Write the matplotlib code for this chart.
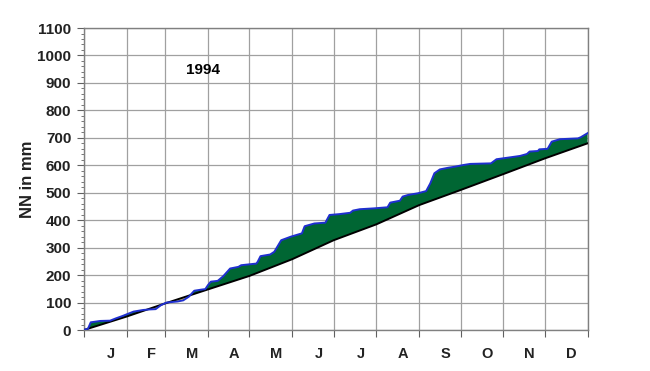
import numpy as np
import matplotlib
matplotlib.use("Agg")
import matplotlib.pyplot as plt

# --- data ---
months = ["J", "F", "M", "A", "M", "J", "J", "A", "S", "O", "N", "D"]
month_days = [31, 28, 31, 30, 31, 30, 31, 31, 30, 31, 30, 31]

# observed cumulative precipitation 1994 (day of year, mm)
obs_day = [0, 3, 5, 12, 19, 23, 28, 31, 36, 43, 48, 52, 56, 60, 68, 72, 76, 80, 85, 88,
           90, 92, 97, 101, 106, 112, 114, 125, 126, 128, 135, 138, 143, 150, 158, 160,
           167, 175, 178, 185, 193, 195, 200, 210, 220, 222, 229, 231, 235, 242, 248,
           251, 254, 258, 264, 269, 275, 280, 295, 299, 309, 316, 321, 323, 329, 330,
           336, 339, 345, 358, 360, 365]
obs_mm = [0, 5, 28, 33, 34, 42, 51, 57, 67, 73, 75, 76, 91, 100, 104, 108, 121, 143, 147, 149,
          164, 176, 179, 196, 224, 230, 236, 242, 249, 269, 275, 285, 327, 340, 352, 378,
          388, 391, 419, 422, 427, 435, 440, 443, 447, 464, 471, 486, 492, 498, 506,
          534, 571, 585, 591, 595, 601, 605, 607, 622, 629, 634, 641, 650, 652, 658,
          660, 686, 695, 698, 702, 717]

# long-term normal cumulative precipitation at month ends
norm_day = [0, 31, 59, 90, 120, 151, 181, 212, 243, 273, 304, 334, 365]
norm_mm = [0, 49, 97, 148, 197, 258, 327, 385, 455, 510, 568, 625, 680]

year_label = "1994"
ylabel = "NN in mm"

FAM = ["Liberation Sans", "DejaVu Sans"]
plt.rcParams["font.family"] = FAM

# --- plot ---
fig = plt.figure(figsize=(6.5, 3.71), dpi=100)
ax = fig.add_axes([0.129, 0.1105, 0.775, 0.814])

bounds = np.concatenate([[0], np.cumsum(month_days)])
label_pos = (bounds[:-1] + bounds[1:]) / 2 + 4

# common grid for the fill
grid = np.union1d(obs_day, norm_day).astype(float)
grid = np.union1d(grid, np.linspace(0, 365, 1461))
o = np.interp(grid, obs_day, obs_mm)
n = np.interp(grid, norm_day, norm_mm)
ax.fill_between(grid, n, o, where=o >= n, interpolate=True, color="#006633", lw=0, zorder=2)
ax.fill_between(grid, n, o, where=o < n, interpolate=True, color="#d8c860", lw=0, zorder=2)

ax.plot(norm_day, norm_mm, color="black", lw=1.4, zorder=3)
ax.plot(obs_day, obs_mm, color="#1f2fd0", lw=1.4, zorder=4)

ax.set_xlim(0, 365)
ax.set_ylim(0, 1100)

ax.set_xticks(bounds)
ax.set_xticklabels([])
ax.set_xticks(label_pos, minor=True)
ax.set_xticklabels(months, minor=True)
ax.tick_params(axis="x", which="major", direction="out", length=5, color="#606060")
ax.tick_params(axis="x", which="minor", length=0, pad=12, labelsize=10.5)
for t in ax.get_xticklabels(minor=True):
    t.set_fontweight("bold")
    t.set_color("#222222")

ax.set_yticks(np.arange(0, 1101, 100))
ax.set_yticks(np.arange(0, 1101, 20), minor=True)
ax.tick_params(axis="y", which="major", direction="out", length=5, pad=4, labelsize=11,
               color="#606060")
ax.tick_params(axis="y", which="minor", direction="out", length=2.5, color="#606060")
for t in ax.get_yticklabels():
    t.set_fontweight("bold")
    t.set_color("#222222")

ax.grid(True, which="major", color="#a0a0a0", lw=0.9)
ax.set_axisbelow(True)
for s in ax.spines.values():
    s.set_color("#808080")
    s.set_linewidth(1.0)

ax.set_ylabel(ylabel, fontsize=12, fontweight="bold", color="#222222", labelpad=2)
ax.text(86, 947, year_label, fontsize=11, fontweight="bold", ha="center", va="center")

for t in fig.findobj(matplotlib.text.Text):
    t.set_fontfamily(FAM)

fig.savefig("out.png", dpi=100)
